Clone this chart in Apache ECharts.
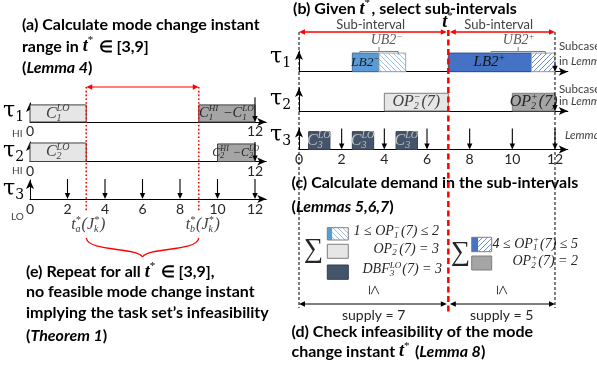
<!DOCTYPE html>
<html>
<head>
<meta charset="utf-8">
<title>Mode change instant infeasibility</title>
<script src="https://cdn.jsdelivr.net/npm/echarts@6.0.0/dist/echarts.min.js"></script>
<style>
  html, body { margin: 0; padding: 0; background: #fff; }
  #chart { width: 597px; height: 370px; }
</style>
</head>
<body>
<div id="chart"></div>
<script>
// ---- data ----
const timeTicks = [0, 2, 4, 6, 8, 10, 12];
const horizon = 12;

// (a) windows of the HI tasks and releases of the LO task
const tau1LoWindow = [0, 3];
const tau1HiWindow = [9, 12];
const tau2LoWindow = [0, 3];
const tau2HiWindow = [10, 12];
const tau3Releases = [2, 4, 6, 8, 10, 12];
const modeChangeRange = [3, 9];

// (b) chosen t* and the blocks around it
const tStar = 7;
const lb2Minus = [2.5, 3.75];
const ub2MinusRest = [3.75, 5];
const ub2MinusBrace = [2.85, 4.65];
const lb2Plus = [7, 10.9];
const ub2PlusRest = [10.9, 12];
const ub2PlusBrace = [9, 11.55];
const op2Minus = [4, 7];
const op2Plus = [10, 12];
const c3LoJobs = [[0.45, 1.45], [2.5, 3.5], [4.55, 5.55]];
const tau3RightReleases = [2, 4, 6, 8, 10, 12];

// (c) demand in each sub-interval
const op1MinusBounds = [1, 2];
const op2MinusDemand = 3;
const dbf3LoDemand = 3;
const op1PlusBounds = [4, 5];
const op2PlusDemand = 2;
const supplies = [7, 5];

// ---- styles ----
const SANS = 'Lato, "Open Sans", sans-serif';
const SERIF = '"Liberation Serif", "DejaVu Serif", serif';
const TAU = '"DejaVu Serif", serif';
const RED = '#ff0000';
const COL = {
  light: '#e7e6e6', gray: '#a5a5a5', navy: '#44546a',
  blueL: '#5b9bd5', blueD: '#4472c4', text: '#262626'
};

const measure = document.createElement('canvas').getContext('2d');
function textW (t, font) { measure.font = font; return measure.measureText(t).width; }

function hatch (color, forward) {
  const c = document.createElement('canvas');
  c.width = 5; c.height = 5;
  const g = c.getContext('2d');
  g.fillStyle = '#fff'; g.fillRect(0, 0, 5, 5);
  g.strokeStyle = color; g.lineWidth = 1;
  g.beginPath();
  if (forward) {
    g.moveTo(0, 5); g.lineTo(5, 0); g.moveTo(-1, 1); g.lineTo(1, -1); g.moveTo(4, 6); g.lineTo(6, 4);
  } else {
    g.moveTo(0, 0); g.lineTo(5, 5); g.moveTo(-1, 4); g.lineTo(1, 6); g.moveTo(4, -1); g.lineTo(6, 1);
  }
  g.stroke();
  return { image: c, repeat: 'repeat' };
}
const HATCH_L = hatch('#9dc3e6', false);
const HATCH_R = hatch('#6f8fd0', true);

// tiny "C_1^{LO}" style markup -> runs of text with sub/superscripts
function parseMath (s) {
  const runs = [];
  let i = 0;
  while (i < s.length) {
    const c = s[i];
    if (c === '_' || c === '^') {
      i++;
      let arg;
      if (s[i] === '{') { const j = s.indexOf('}', i); arg = s.slice(i + 1, j); i = j + 1; } else { arg = s[i]; i++; }
      const last = runs[runs.length - 1];
      if (c === '_') last.sub = arg; else last.sup = arg;
    } else {
      const last = runs[runs.length - 1];
      if (last && last.sub === undefined && last.sup === undefined) last.t += c;
      else runs.push({ t: c });
      i++;
    }
  }
  return runs;
}

function mathSegs (s, size, color, opts) {
  const o = opts || {};
  const fam = o.family || SERIF;
  const pre = (o.upright ? '' : 'italic ') + (o.bold ? 'bold ' : '');
  const base = `${pre}${size}px ${fam}`;
  const small = `${pre}${Math.round(size * 0.64)}px ${fam}`;
  const segs = [];
  parseMath(s).forEach(r => {
    segs.push({ t: r.t, font: base, color });
    const hasSup = r.sup !== undefined;
    const hasSub = r.sub !== undefined;
    if (hasSup || hasSub) {
      const w = Math.max(hasSup ? textW(r.sup, small) : 0, hasSub ? textW(r.sub, small) : 0);
      if (hasSup) segs.push({ t: r.sup, font: small, color, dy: -size * 0.3, adv: hasSub ? 0 : w + 1 });
      if (hasSub) segs.push({ t: r.sub, font: small, color, dy: size * 0.28, adv: w + 1 });
    }
  });
  return segs;
}

function line (x, y, segs, align) {
  let cx = 0;
  const children = segs.map(s => {
    const el = { type: 'text', x: cx, y: s.dy || 0, style: { text: s.t, font: s.font, fill: s.color || '#000', verticalAlign: 'middle' } };
    cx += s.adv !== undefined ? s.adv : textW(s.t, s.font);
    return el;
  });
  const ox = align === 'center' ? -cx / 2 : align === 'right' ? -cx : 0;
  return { type: 'group', x: x + ox, y, children };
}
function math (s, x, y, size, color, align, opts) { return line(x, y, mathSegs(s, size, color, opts), align); }

const TB = `bold 16px ${SANS}`;
const TBI = `italic bold 16px ${SANS}`;
const b = t => ({ t, font: TB });
const bi = t => ({ t, font: TBI });
const tStarSegs = () => [{ t: 't', font: `italic bold 18px ${SERIF}` }, { t: '*', font: `11px ${SERIF}`, dy: -6, adv: 7 }];
const plain = (t, size, color, italic) => ({ t, font: `${italic ? 'italic ' : ''}${size}px ${SANS}`, color: color || '#404040' });

function arrowHead (x, y, dir, color, size) {
  const s = size || 6;
  const h = s * 0.45;
  let pts;
  if (dir === 'r') pts = [[x, y], [x - s, y - h], [x - s, y + h]];
  else if (dir === 'l') pts = [[x, y], [x + s, y - h], [x + s, y + h]];
  else pts = [[x, y], [x - h, y - s], [x + h, y - s]];
  return { type: 'polygon', shape: { points: pts }, style: { fill: color } };
}
function hArrow2 (xa, xb, y, color, w) {
  return [
    { type: 'line', shape: { x1: xa + 2, y1: y, x2: xb - 2, y2: y }, style: { stroke: color, lineWidth: w } },
    arrowHead(xa, y, 'l', color), arrowHead(xb, y, 'r', color)
  ];
}
function vLine (x, y1, y2, color, w, dash) {
  return { type: 'line', shape: { x1: x, y1, x2: x, y2 }, style: { stroke: color, lineWidth: w, lineDash: dash || null } };
}

// ---- axes ----
const axisMax = 12.6;
const LW = axisMax * 18.75;
const RW = axisMax * 21.333;
const grid = [
  { left: 30, top: 103, width: LW, height: 19 },
  { left: 30, top: 142, width: LW, height: 19.5 },
  { left: 30, top: 180, width: LW, height: 19 },
  { left: 299, top: 51, width: RW, height: 20.7 },
  { left: 299, top: 88, width: RW, height: 23 },
  { left: 299, top: 128.5, width: RW, height: 21 }
].map(g => Object.assign(g, { outerBoundsMode: 'none' }));

function timeAxis (gridIndex, mode, margin) {
  return {
    type: 'value', gridIndex, min: 0, max: axisMax, interval: 2,
    axisLine: { show: true, onZero: false, symbol: ['none', 'arrow'], symbolSize: [6, 9], lineStyle: { color: '#000', width: 1 } },
    axisTick: { show: false },
    splitLine: { show: false },
    axisLabel: {
      show: mode !== 'none', margin: margin || 3, fontSize: 14, color: '#262626', fontFamily: SANS,
      formatter: v => (mode === 'ends' ? (v === 0 || v === horizon) : timeTicks.includes(v)) ? String(v) : ''
    }
  };
}
function riseAxis (gridIndex) {
  return {
    type: 'value', gridIndex, min: 0, max: 1,
    axisLine: { show: true, onZero: false, symbol: ['none', 'arrow'], symbolSize: [6, 9], lineStyle: { color: '#000', width: 1 } },
    axisTick: { show: false }, axisLabel: { show: false }, splitLine: { show: false }
  };
}

// ---- series builders ----
function boxSeries (gi, items) {
  return {
    type: 'custom', xAxisIndex: gi, yAxisIndex: gi, z: 3, silent: true,
    data: items.map(it => [it.span[0], it.span[1], it.top]),
    renderItem: (params, api) => {
      const it = items[params.dataIndex];
      const a = api.coord([api.value(0), 0]);
      const c = api.coord([api.value(1), api.value(2)]);
      const kids = [{ type: 'rect', shape: { x: a[0], y: c[1], width: c[0] - a[0], height: a[1] - c[1] }, style: { fill: it.fill, stroke: it.stroke || '#595959', lineWidth: 1 } }];
      if (it.label) kids.push(math(it.label, (a[0] + c[0]) / 2 + (it.dx || 0), (a[1] + c[1]) / 2 + (it.dy || 0), it.size || 15, it.color || COL.text, 'center'));
      return { type: 'group', children: kids };
    }
  };
}

function releaseSeries (gi, xs, topVal) {
  return {
    type: 'custom', xAxisIndex: gi, yAxisIndex: gi, z: 4, silent: true,
    data: xs.map(v => [v]),
    renderItem: (params, api) => {
      const a = api.coord([api.value(0), topVal]);
      const c = api.coord([api.value(0), 0]);
      return {
        type: 'group',
        children: [
          { type: 'line', shape: { x1: a[0], y1: a[1], x2: c[0], y2: c[1] - 4 }, style: { stroke: '#000', lineWidth: 1.1 } },
          arrowHead(c[0], c[1], 'd', '#000', 6)
        ]
      };
    }
  };
}

function bracketSeries (gi, spans, labels, shifts) {
  return {
    type: 'custom', xAxisIndex: gi, yAxisIndex: gi, z: 5, silent: true,
    data: spans.map(s => s.slice()),
    renderItem: (params, api) => {
      const a = api.coord([api.value(0), 1]);
      const c = api.coord([api.value(1), 1]);
      const y = a[1] + 0.5;
      const m = (a[0] + c[0]) / 2;
      return {
        type: 'group',
        children: [
          { type: 'polyline', shape: { points: [[a[0], y + 3], [a[0], y], [c[0], y], [c[0], y + 3]] }, style: { stroke: '#7f7f7f', lineWidth: 1, fill: null } },
          vLine(m, y, y - 4.5, '#7f7f7f', 1),
          math(labels[params.dataIndex], m + shifts[params.dataIndex], y - 11, 14, '#595959', 'center')
        ]
      };
    }
  };
}

const leftOverlay = {
  type: 'custom', xAxisIndex: 2, yAxisIndex: 2, z: 10, silent: true,
  data: [modeChangeRange.slice()],
  renderItem: (params, api) => {
    const xa = api.coord([api.value(0), 0])[0];
    const xb = api.coord([api.value(1), 0])[0];
    const xm = (xa + xb) / 2;
    return {
      type: 'group',
      children: [
        vLine(xa, 87, 211, RED, 1.6, [1.6, 2.2]),
        vLine(xb, 87, 211, RED, 1.6, [1.6, 2.2]),
        ...hArrow2(xa, xb, 87, RED, 1.2),
        math('t_a^*(J_k^*)', xa + 2, 225, 16, '#404040', 'center'),
        math('t_b^*(J_k^*)', xb + 4, 225, 16, '#404040', 'center'),
        { type: 'bezierCurve', shape: { x1: xa, y1: 238, cpx1: xa + 2, cpy1: 252, cpx2: xm - 6, cpy2: 247, x2: xm, y2: 257 }, style: { stroke: RED, lineWidth: 1.3, fill: null } },
        { type: 'bezierCurve', shape: { x1: xb, y1: 238, cpx1: xb - 2, cpy1: 252, cpx2: xm + 6, cpy2: 247, x2: xm, y2: 257 }, style: { stroke: RED, lineWidth: 1.3, fill: null } }
      ]
    };
  }
};

const rightOverlay = {
  type: 'custom', xAxisIndex: 5, yAxisIndex: 5, z: 10, silent: true,
  data: [[tStar]],
  renderItem: (params, api) => {
    const X = v => api.coord([v, 0])[0];
    const x0 = X(0);
    const xs = X(api.value(0));
    const x1 = X(horizon);
    const mids = [(x0 + xs) / 2, (xs + x1) / 2];
    const kids = [
      vLine(x0, 32, 308, '#000', 1, [3, 2]),
      vLine(x1, 32, 308, '#000', 1, [3, 2]),
      ...hArrow2(x0, xs - 1.5, 32, RED, 1.3),
      ...hArrow2(xs + 1.5, x1, 32, RED, 1.3),
      ...hArrow2(x0, xs - 1.5, 304, '#000', 1),
      ...hArrow2(xs + 1.5, x1, 304, '#000', 1),
      vLine(xs, 30, 313, RED, 2.5, [6, 3.5]),
      line(xs, 22, tStarSegs(), 'center')
    ];
    mids.forEach((m, i) => {
      kids.push(line(m - 3, 24.5, [plain('Sub-interval', 13)], 'center'));
      kids.push(line(m, 315.5, [plain(`supply = ${supplies[i]}`, 14, '#262626')], 'center'));
      kids.push({ type: 'text', x: m, y: 290, rotation: -Math.PI / 2, style: { text: '≤', font: `18px ${SERIF}`, fill: '#262626', align: 'center', verticalAlign: 'middle' } });
    });
    return { type: 'group', children: kids };
  }
};

// ---- static annotations ----
const range = `[${modeChangeRange.join(',')}]`;
const graphic = [
  line(22, 24.8, [b('(a) Calculate mode change instant')]),
  line(22, 46.5, [b('range in '), ...tStarSegs(), b(` ∈ ${range}`)]),
  line(22, 68.3, [b('('), bi('Lemma 4'), b(')')]),
  line(293, 9, [b('(b) Given '), ...tStarSegs(), b(', select sub-intervals')]),
  line(291.5, 183, [b('(c) Calculate demand in the sub-intervals')]),
  line(291.5, 206.5, [b('('), bi('Lemmas 5,6,7'), b(')')]),
  line(291.5, 331.7, [b('(d) Check infeasibility of the mode')]),
  line(291.5, 351.7, [b('change instant '), ...tStarSegs(), b(' ('), bi('Lemma 8'), b(')')]),
  line(26, 272, [b('(e) Repeat for all '), ...tStarSegs(), b(` ∈ ${range},`)]),
  line(26, 292.3, [b('no feasible mode change instant')]),
  line(26, 313.3, [b('implying the task set’s infeasibility')]),
  line(26, 336, [b('('), bi('Theorem 1'), b(')')]),

  math('τ_1', 3, 111, 22, '#000', 'left', { upright: true, family: TAU }),
  math('τ_2', 3, 151, 22, '#000', 'left', { upright: true, family: TAU }),
  math('τ_3', 3, 189, 22, '#000', 'left', { upright: true, family: TAU }),
  math('τ_1', 270, 57.5, 22, '#000', 'left', { upright: true, family: TAU }),
  math('τ_2', 270, 99.5, 22, '#000', 'left', { upright: true, family: TAU }),
  math('τ_3', 270, 135.5, 22, '#000', 'left', { upright: true, family: TAU }),
  line(12, 133.3, [plain('HI', 10)]),
  line(12, 170.7, [plain('HI', 10)]),
  line(11, 216.7, [plain('LO', 10)]),

  line(559, 46.5, [plain('Subcase', 11.5)]),
  line(559, 61, [plain('in ', 11.5), plain('Lemma', 11.5, null, true)]),
  line(559, 89.3, [plain('Subcase', 11.5)]),
  line(559, 101.5, [plain('in ', 11.5), plain('Lemma', 11.5, null, true)]),
  line(565, 135, [plain('Lemma', 11.5, null, true)]),

  // (c) left sum
  line(304, 250, [{ t: '∑', font: `27px ${SERIF}`, color: '#262626' }]),
  { type: 'rect', shape: { x: 327.3, y: 227.7, width: 5, height: 12.3 }, style: { fill: COL.blueL } },
  { type: 'rect', shape: { x: 332.3, y: 227.7, width: 16, height: 12.3 }, style: { fill: HATCH_L } },
  { type: 'rect', shape: { x: 327.3, y: 227.7, width: 21, height: 12.3 }, style: { fill: null, stroke: '#7f7f7f', lineWidth: 1 } },
  { type: 'rect', shape: { x: 327.3, y: 244.3, width: 21, height: 14 }, style: { fill: COL.light, stroke: '#7f7f7f', lineWidth: 1 } },
  { type: 'rect', shape: { x: 327.3, y: 265, width: 21, height: 14.3 }, style: { fill: COL.navy, stroke: '#333f50', lineWidth: 1 } },
  math(`${op1MinusBounds[0]} ≤ OP_1^−(${tStar}) ≤ ${op1MinusBounds[1]}`, 439, 231.7, 14, COL.text, 'right'),
  math(`OP_2^−(${tStar}) = ${op2MinusDemand}`, 439, 249, 14, COL.text, 'right'),
  math(`DBF_3^{LO}(${tStar}) = ${dbf3LoDemand}`, 442, 269.5, 14, COL.text, 'right'),

  // (c) right sum
  line(451, 253, [{ t: '∑', font: `27px ${SERIF}`, color: '#262626' }]),
  { type: 'rect', shape: { x: 471.7, y: 237.3, width: 6.6, height: 14.4 }, style: { fill: COL.blueD } },
  { type: 'rect', shape: { x: 478.3, y: 237.3, width: 13.4, height: 14.4 }, style: { fill: HATCH_R } },
  { type: 'rect', shape: { x: 471.7, y: 237.3, width: 20, height: 14.4 }, style: { fill: null, stroke: '#7f7f7f', lineWidth: 1 } },
  { type: 'rect', shape: { x: 471.7, y: 256, width: 20, height: 14 }, style: { fill: COL.gray, stroke: '#7f7f7f', lineWidth: 1 } },
  math(`${op1PlusBounds[0]} ≤ OP_1^+(${tStar}) ≤ ${op1PlusBounds[1]}`, 578, 244, 14, COL.text, 'right'),
  math(`OP_2^+(${tStar}) = ${op2PlusDemand}`, 578, 261.7, 14, COL.text, 'right')
];

const chart = echarts.init(document.getElementById('chart'));
chart.setOption({
  animation: false,
  grid,
  xAxis: [timeAxis(0, 'ends', 2), timeAxis(1, 'ends', 2.5), timeAxis(2, 'all', 3), timeAxis(3, 'none'), timeAxis(4, 'none'), timeAxis(5, 'all', 3)],
  yAxis: [0, 1, 2, 3, 4, 5].map(riseAxis),
  series: [
    boxSeries(0, [
      { span: tau1LoWindow, top: 0.9, fill: COL.light, stroke: '#404040', label: 'C_1^{LO}', color: '#404040', size: 16 },
      { span: tau1HiWindow, top: 0.9, fill: COL.gray, stroke: '#404040', label: 'C_1^{HI} −C_1^{LO}', size: 14.5 }
    ]),
    releaseSeries(0, [horizon], 1.3),
    boxSeries(1, [
      { span: tau2LoWindow, top: 0.95, fill: COL.light, stroke: '#404040', label: 'C_2^{LO}', color: '#404040', size: 16 },
      { span: tau2HiWindow, top: 0.9, fill: COL.gray, stroke: '#404040', label: 'C_2^{HI} −C_2^{LO}', size: 12 }
    ]),
    releaseSeries(1, [horizon], 1.0),
    releaseSeries(2, tau3Releases, 1.05),
    boxSeries(3, [
      { span: lb2Minus, top: 0.9, fill: COL.blueL, stroke: '#41719c', label: 'LB2^−', size: 13.5, color: '#1a1a1a' },
      { span: ub2MinusRest, top: 0.9, fill: HATCH_L, stroke: '#a6a6a6' },
      { span: lb2Plus, top: 0.9, fill: COL.blueD, stroke: '#2f528f', label: 'LB2^+', size: 15, color: '#111' },
      { span: ub2PlusRest, top: 0.9, fill: HATCH_R, stroke: '#a6a6a6' }
    ]),
    bracketSeries(3, [ub2MinusBrace, ub2PlusBrace], ['UB2^−', 'UB2^+'], [8, 1]),
    releaseSeries(3, [horizon], 0.35),
    boxSeries(4, [
      { span: op2Minus, top: 0.77, fill: COL.light, stroke: '#7f7f7f', label: `OP_2^−(${tStar})`, color: '#404040', size: 16 },
      { span: op2Plus, top: 0.77, fill: COL.gray, stroke: '#7f7f7f', label: `OP_2^+(${tStar})`, color: '#262626', size: 16 }
    ]),
    releaseSeries(4, [horizon], 0.3),
    boxSeries(5, c3LoJobs.map(s => ({ span: s, top: 0.85, fill: COL.navy, stroke: '#333f50', label: 'C_3^{LO}', color: '#c0c0c0', size: 16 }))),
    releaseSeries(5, tau3RightReleases, 1.0),
    leftOverlay,
    rightOverlay
  ],
  graphic
});
</script>
</body>
</html>
